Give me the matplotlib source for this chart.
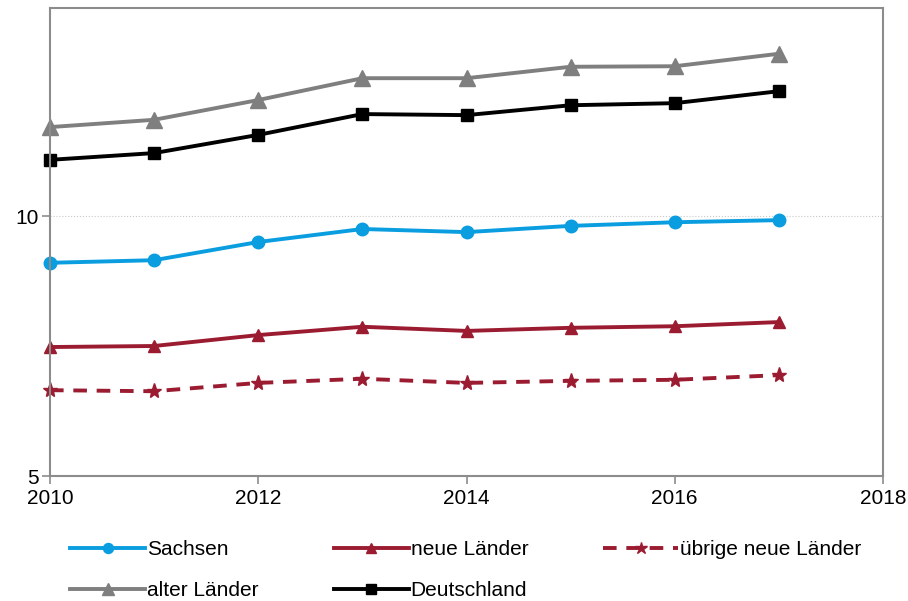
import matplotlib
matplotlib.use("Agg")
import matplotlib.pyplot as plt
from matplotlib.ticker import FixedLocator

plt.rcParams['font.family'] = ['Liberation Sans', 'DejaVu Sans']

years = [2010, 2011, 2012, 2013, 2014, 2015, 2016, 2017]
sachsen = [9.10, 9.15, 9.50, 9.75, 9.69, 9.81, 9.88, 9.92]
neue_laender = [7.48, 7.50, 7.71, 7.87, 7.79, 7.85, 7.88, 7.96]
uebrige_neue = [6.65, 6.63, 6.79, 6.87, 6.79, 6.83, 6.85, 6.94]
alte_laender = [11.71, 11.85, 12.23, 12.65, 12.65, 12.87, 12.88, 13.12]
deutschland = [11.08, 11.21, 11.56, 11.96, 11.94, 12.13, 12.17, 12.40]

x_ticks = [2010, 2012, 2014, 2016, 2018]
y_ticks = [5, 10]

fig = plt.figure(figsize=(9.08, 6.01), dpi=100)
ax = fig.add_axes([50/908, 1 - 476/601, 833/908, 468/601])

red = '#9b1c31'
h1, = ax.plot(years, sachsen, color='#0a9ddf', lw=2.8, marker='o', ms=9, label='Sachsen')
h2, = ax.plot(years, neue_laender, color=red, lw=2.8, marker='^', ms=9, label='neue Länder')
h3, = ax.plot(years, uebrige_neue, color=red, lw=2.8, ls=(0, (3.5, 2.5)), marker='*', ms=11,
              label='übrige neue Länder')
h4, = ax.plot(years, alte_laender, color='#7f7f7f', lw=2.8, marker='^', ms=11, label='alter Länder')
h5, = ax.plot(years, deutschland, color='black', lw=2.8, marker='s', ms=9, label='Deutschland')

ax.set_xlim(2010, 2018)
ax.set_ylim(5, 14)
ax.xaxis.set_major_locator(FixedLocator(x_ticks))
ax.yaxis.set_major_locator(FixedLocator(y_ticks))
ax.axhline(10, color='#c8c8c8', lw=0.8, ls=':', zorder=0)

for s in ax.spines.values():
    s.set_color('#8c8c8c')
    s.set_linewidth(1.5)
ax.tick_params(axis='both', colors='#8c8c8c', labelcolor='black', labelsize=15,
               length=6, width=1.2, direction='out')
ax.tick_params(axis='x', pad=3)
ax.tick_params(axis='y', pad=2)
for c in ax.get_lines():
    c.set_clip_on(False)

# row-major order for a 3-column legend
handles = [h1, h4, h2, h5, h3]
fig.legend(handles, [h.get_label() for h in handles],
           loc='upper left', bbox_to_anchor=(70/908, 1 - 540/601), ncol=3, frameon=False,
           fontsize=15, handlelength=3.6, handletextpad=0.1, columnspacing=3.6,
           labelspacing=1.05, borderpad=0, borderaxespad=0, markerscale=0.8)

fig.savefig('out.png', dpi=100)
